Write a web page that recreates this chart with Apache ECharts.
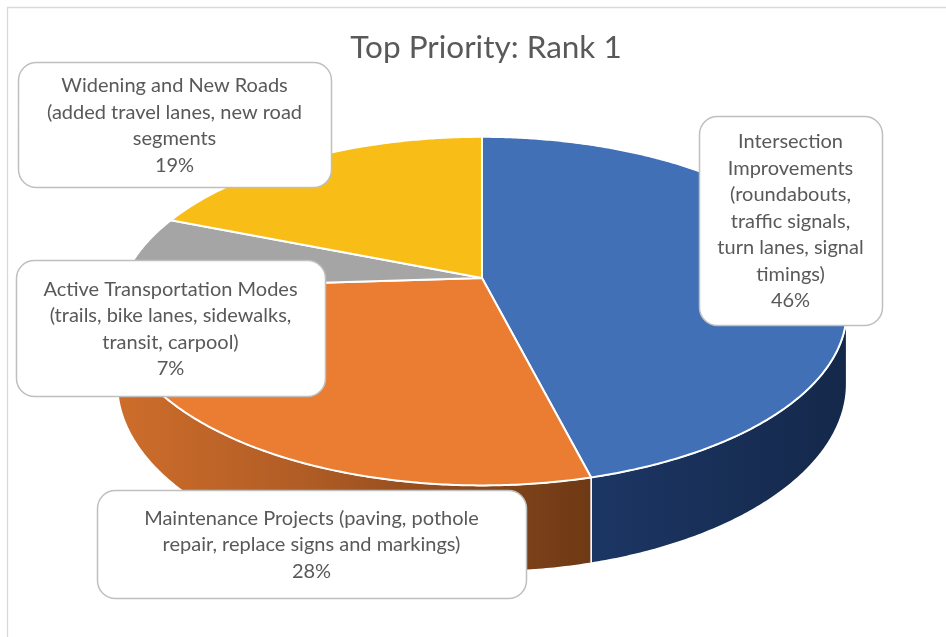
<!DOCTYPE html>
<html>
<head>
<meta charset="utf-8">
<script src="https://cdn.jsdelivr.net/npm/echarts@6/dist/echarts.min.js"></script>
<style>
  html, body { margin: 0; padding: 0; background: #ffffff; }
  #chart { width: 946px; height: 637px; }
</style>
</head>
<body>
<div id="chart"></div>
<script>
// ---- data ----
const chartTitle = 'Top Priority: Rank 1';
const categories = [
  'Intersection\nImprovements\n(roundabouts,\ntraffic signals,\nturn lanes, signal\ntimings)',
  'Maintenance Projects (paving, pothole\nrepair, replace signs and markings)',
  'Active Transportation Modes\n(trails, bike lanes, sidewalks,\ntransit, carpool)',
  'Widening and New Roads\n(added travel lanes, new road\nsegments'
];
const values = [46, 28, 7, 19];

// ---- styling ----
const topColors = ['#4270B7', '#EA7D31', '#A5A5A5', '#F8BD17'];
const sideStops = [
  [{ offset: 0, color: '#1C3664' }, { offset: 1, color: '#14284A' }],
  [{ offset: 0, color: '#CD6D2B' }, { offset: 0.4, color: '#B05C25' }, { offset: 0.8, color: '#82441A' }, { offset: 1, color: '#6E3915' }],
  [{ offset: 0, color: '#7A7A7A' }, { offset: 1, color: '#555555' }],
  [{ offset: 0, color: '#B88C10' }, { offset: 1, color: '#8A690C' }]
];
// callout boxes: [x, y, width, height]
const labelBoxes = [
  [699, 116, 183, 209],
  [97, 490, 429, 108],
  [16, 260, 309, 136],
  [18, 62, 313, 125]
];
const FONT = 'Lato, "Open Sans", sans-serif';

// tilted disc with a little perspective: near edge larger than far edge
const disc = { cx: 482, cy: 278, rx: 358, ry: 168, k: 0.19, depth: 70 };

const total = values.reduce((a, b) => a + b, 0);
const starts = [];
values.reduce((acc, v, i) => { starts[i] = acc; return acc + v; }, 0);

function rimPoint(theta, lower) {
  const u = Math.sin(theta), v = Math.cos(theta);
  const s = 1 / (1 + disc.k * v);
  return [
    disc.cx + disc.rx * u * s,
    disc.cy - disc.ry * v * s + (lower ? disc.depth * s : 0)
  ];
}
function arcPoints(a0, a1, lower) {
  const n = Math.max(2, Math.ceil(Math.abs(a1 - a0) / (Math.PI / 360)));
  const pts = [];
  for (let i = 0; i <= n; i++) pts.push(rimPoint(a0 + (a1 - a0) * i / n, lower));
  return pts;
}
// angles where the outline turns (left/right silhouette of the disc)
const silRight = Math.acos(-disc.k);
const silLeft = 2 * Math.PI - silRight;

function sliceAngles(i, v) {
  const a0 = starts[i] / total * 2 * Math.PI;
  return [a0, a0 + v / total * 2 * Math.PI];
}

const chart = echarts.init(document.getElementById('chart'));
const seriesData = values.map((v, i) => ({ name: categories[i], value: v }));

chart.setOption({
  animation: false,
  title: {
    text: chartTitle,
    left: 481,
    top: 27,
    textAlign: 'center',
    textStyle: { fontFamily: FONT, fontSize: 31.5, fontWeight: 'normal', color: '#595959' }
  },
  graphic: [{
    type: 'rect',
    silent: true,
    shape: { x: 7.5, y: 7.5, width: 1200, height: 1200 },
    style: { fill: 'none', stroke: '#D9D9D9', lineWidth: 1.3 }
  }],
  series: [
    {
      // visible walls of the disc
      type: 'custom',
      coordinateSystem: 'none',
      silent: true,
      z: 1,
      data: seriesData,
      renderItem: function (params, api) {
        const i = params.dataIndex;
        const [a0, a1] = sliceAngles(i, api.value(0));
        const f0 = Math.max(a0, silRight), f1 = Math.min(a1, silLeft);
        if (f1 <= f0) return { type: 'group', children: [] };
        const pts = arcPoints(f0, f1, false).concat(arcPoints(f1, f0, true));
        const xa = rimPoint(f0, false)[0], xb = rimPoint(f1, false)[0];
        return {
          type: 'polygon',
          shape: { points: pts },
          style: {
            fill: {
              type: 'linear', global: true,
              x: Math.min(xa, xb), y: 0, x2: Math.max(xa, xb), y2: 0,
              colorStops: sideStops[i]
            },
            stroke: '#ffffff',
            lineWidth: 1.5,
            lineJoin: 'round'
          }
        };
      }
    },
    {
      // top faces of the slices
      type: 'custom',
      coordinateSystem: 'none',
      silent: true,
      z: 2,
      data: seriesData,
      renderItem: function (params, api) {
        const i = params.dataIndex;
        const [a0, a1] = sliceAngles(i, api.value(0));
        const pts = [[disc.cx, disc.cy]].concat(arcPoints(a0, a1, false));
        return {
          type: 'polygon',
          shape: { points: pts },
          style: { fill: topColors[i], stroke: '#ffffff', lineWidth: 2, lineJoin: 'round' }
        };
      }
    },
    {
      // callout labels
      type: 'custom',
      coordinateSystem: 'none',
      silent: true,
      z: 3,
      data: seriesData,
      renderItem: function (params, api) {
        const i = params.dataIndex;
        const [bx, by, bw, bh] = labelBoxes[i];
        return {
          type: 'group',
          children: [
            {
              type: 'rect',
              shape: { x: bx + 0.5, y: by + 0.5, width: bw, height: bh, r: 18 },
              style: { fill: '#ffffff', stroke: '#BFBFBF', lineWidth: 1.5 }
            },
            {
              type: 'text',
              style: {
                x: bx + bw / 2,
                y: by + bh / 2 + 1,
                text: categories[i] + '\n' + api.value(0) + '%',
                align: 'center',
                verticalAlign: 'middle',
                fontFamily: FONT,
                fontSize: 20,
                lineHeight: 26.5,
                fill: '#595959'
              }
            }
          ]
        };
      }
    }
  ]
});
</script>
</body>
</html>
